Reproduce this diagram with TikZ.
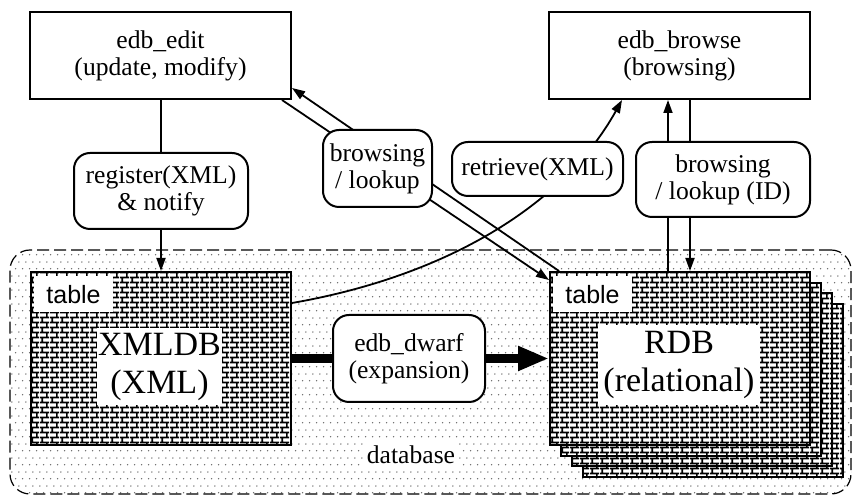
\documentclass[tikz,border=0pt]{standalone}
\usepackage{fontspec}
\setmainfont{Liberation Serif}
\setsansfont{Liberation Sans}
\usetikzlibrary{calc,patterns,arrows.meta,positioning}
\pgfdeclarelayer{bg}
\pgfdeclarelayer{mid}
\pgfsetlayers{bg,mid,main}
\pgfdeclarepatternformonly{bricks2}{\pgfpointorigin}{\pgfqpoint{5pt}{5.2pt}}{\pgfqpoint{5pt}{5.2pt}}{%
  \pgfsetlinewidth{0.9pt}
  \pgfpathmoveto{\pgfqpoint{0pt}{1.3pt}}\pgfpathlineto{\pgfqpoint{5pt}{1.3pt}}
  \pgfpathmoveto{\pgfqpoint{0pt}{3.9pt}}\pgfpathlineto{\pgfqpoint{5pt}{3.9pt}}
  \pgfpathmoveto{\pgfqpoint{1.25pt}{1.3pt}}\pgfpathlineto{\pgfqpoint{1.25pt}{3.9pt}}
  \pgfpathmoveto{\pgfqpoint{3.75pt}{3.9pt}}\pgfpathlineto{\pgfqpoint{3.75pt}{5.2pt}}
  \pgfpathmoveto{\pgfqpoint{3.75pt}{0pt}}\pgfpathlineto{\pgfqpoint{3.75pt}{1.3pt}}
  \pgfusepath{stroke}}
\pgfdeclarepatternformonly{dbdots}{\pgfpointorigin}{\pgfqpoint{3.6pt}{6.8pt}}{\pgfqpoint{3.6pt}{6.8pt}}{%
  \pgfpathcircle{\pgfqpoint{0.9pt}{1.7pt}}{0.4pt}
  \pgfpathcircle{\pgfqpoint{2.7pt}{5.1pt}}{0.4pt}
  \pgfusepath{fill}}
\tikzstyle{l1}=[line width=0.9pt]
\tikzstyle{arr}=[l1, -{Triangle[length=6.5pt,width=4.5pt]}]
\tikzstyle{box}=[draw=black, line width=1pt, minimum width=130.5pt, minimum height=43.5pt, align=center]
\tikzstyle{rbox}=[draw=black, line width=1pt, rounded corners=8pt, fill=white, align=center, inner sep=0pt]
\tikzstyle{tbl}=[draw=black, line width=1pt, preaction={fill=white}, pattern=bricks2, minimum width=130pt, minimum height=86.5pt]
\tikzstyle{tag}=[fill=white, inner xsep=6pt, minimum height=18pt, anchor=north west, font=\sffamily\fontsize{12.5}{14}\selectfont]
\tikzstyle{big}=[fill=white, align=center, inner sep=0pt, font=\fontsize{17}{19}\selectfont]
\tikzstyle{dbase}=[draw=black, line width=0.6pt, dash pattern=on 6pt off 2.5pt, rounded corners=10pt, pattern=dbdots, pattern color=black!60, minimum width=420.5pt, minimum height=122pt]

\begin{document}
\begin{tikzpicture}[x=0.5pt, y=-0.5pt, font=\fontsize{12.8}{13.5}\selectfont]
    \useasboundingbox (0,0) rectangle (853,496);

    \begin{pgfonlayer}{bg}
        \node[dbase] at (430.5,372) (db) {};
    \end{pgfonlayer}
    \node[fill=white, inner sep=1.5pt] at (411,455) (dblabel) {database};

    % tables
    \node[tbl] at (161,358.5) (xml) {};
    \node[tag] at ($(xml.north west)+(4,5)$) (xmltag) {table};
    \node[big, minimum width=62.5pt, minimum height=38.5pt] at (159.5,366.5) (xmlname) {XMLDB\\(XML)};

    \foreach \k in {3,2,1}
        \node[tbl] at (680+11*\k,358.5+10.7*\k) (rdb\k) {};
    \node[tbl] at (680,358.5) (rdb) {};
    \node[tag] at ($(rdb.north west)+(4,5)$) (rdbtag) {table};
    \node[big, minimum width=81pt, minimum height=40pt] at (679,365) (rdbname) {RDB\\(relational)};

    % programs
    \node[box] at (160.5,55.5) (edit) {edb\_edit\\(update, modify)};
    \node[box] at (679.5,55.5) (browse) {edb\_browse\\(browsing)};

    \node[rbox, minimum width=87pt, minimum height=38pt] at (161,191) (reg) {register(XML)\\\& notify};
    \node[rbox, minimum width=54.5pt, minimum height=38.5pt] at (377.5,168.5) (lookl) {browsing\\/ lookup};
    \node[rbox, minimum width=85.5pt, minimum height=27pt] at (537.5,169) (retr) {retrieve(XML)};
    \node[rbox, minimum width=87pt, minimum height=37.5pt] at (723,179.5) (lookr) {browsing\\/ lookup (ID)};
    \node[rbox, minimum width=76pt, minimum height=43.5pt] at (409,358.5) (dwarf) {edb\_dwarf\\(expansion)};

    \begin{pgfonlayer}{mid}
        \draw[l1] (edit.south -| reg.north) -- (reg.north);
        \draw[arr] (reg.south) -- (reg.south |- xml.north);

        \coordinate (a1) at ($(edit.south east)+(-10,0)$);
        \coordinate (a2) at ($(rdb.north west)+(0,9)$);
        \coordinate (b1) at ($(rdb.north west)+(10,0)$);
        \coordinate (b2) at ($(edit.north east)+(0,77)$);
        \draw[arr] (a1) -- (a2);
        \draw[arr] (b1) -- (b2);

        \coordinate (c1) at ($(xml.north east)+(0,32)$);
        \coordinate (c2) at ($(browse.south west)+(74,0)$);
        \draw[arr] (c1) .. controls +(150,-26) and +(-60,108) .. (c2);

        \draw[arr] ($(rdb.north)+(-12,0)$) -- ($(browse.south)+(-11.5,0)$);
        \draw[arr] ($(browse.south)+(10.5,0)$) -- ($(rdb.north)+(10,0)$);

        \draw[line width=4.5pt] (xml.east |- dwarf.west) -- (dwarf.west);
        \draw[line width=4.5pt, -{Triangle[length=15.5pt,width=11.5pt]}] (dwarf.east) -- (dwarf.east -| rdb.west);
    \end{pgfonlayer}
\end{tikzpicture}
\end{document}
